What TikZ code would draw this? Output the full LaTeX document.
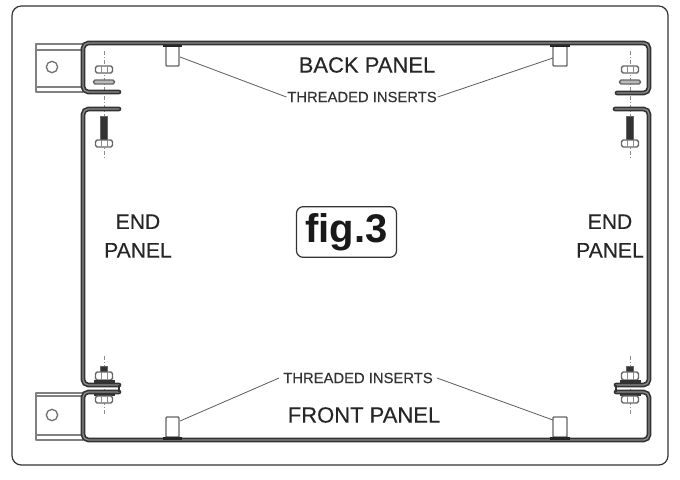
\documentclass[tikz,border=0pt]{standalone}
\usepackage{fontspec}
\setmainfont{Liberation Sans}
\newfontfamily\heavyfont[FakeBold=0.25]{Liberation Sans}
\definecolor{ink}{HTML}{333333}
\definecolor{mid}{HTML}{8C8C8C}
\tikzset{
 x=0.75pt,y=-0.75pt,
 sheetouter/.style={draw=ink,line width=3.5pt,rounded corners=4pt,line cap=round},
 sheetinner/.style={draw=mid,line width=1pt,rounded corners=4pt,line cap=round},
 tabline/.style={draw=black!50,line width=1pt,line join=round},
 lead/.style={draw=ink!80,line width=0.6pt},
 axisline/.style={draw=mid,line width=0.5pt,dash pattern=on 3pt off 1.5pt on 0.8pt off 1.5pt},
 hw/.style={draw=black!60,fill=white,line width=1.1pt,rounded corners=1.2pt},
 shank/.style={fill=ink,draw=black!60,line width=0.3pt},
 flangeb/.style={fill=black!85,draw=none},
 lbl/.style={font=\heavyfont\fontsize{16.5pt}{18pt}\selectfont,text=black!85,inner sep=0pt,align=center},
 lblend/.style={font=\heavyfont\fontsize{15.8pt}{18pt}\selectfont,text=black!85,inner sep=0pt,align=center},
 small/.style={font=\heavyfont\fontsize{11.1pt}{12pt}\selectfont,text=black!80,inner sep=0pt},
}
\newcommand{\sheet}[1]{\draw[sheetouter] #1; \draw[sheetinner] #1;}
\begin{document}
\begin{tikzpicture}
\useasboundingbox (0,0) rectangle (680,479);
\fill[white] (0,0) rectangle (680,479);
\draw[ink,line width=0.9pt,rounded corners=7pt] (12,6) rectangle (668,465);
% tabs
\draw[tabline] (83,44) -- (36,44) -- (36,92) -- (83,92);
\draw[tabline] (36,50) -- (83,50) (36,87) -- (83,87);
\node[circle,draw=black!55,line width=1pt,minimum size=8.5pt,inner sep=0pt] (holeA) at (52,67) {};
\draw[tabline] (83,393) -- (36,393) -- (36,440) -- (83,440);
\draw[tabline] (36,396) -- (83,396) (36,435) -- (83,435);
\node[circle,draw=black!55,line width=1pt,minimum size=8.5pt,inner sep=0pt] (holeB) at (52,415) {};
% axes
\draw[axisline] (104,51) -- (104,158);
\draw[axisline] (630,51) -- (630,158);
\draw[axisline] (104,356) -- (104,416);
\draw[axisline] (630,356) -- (630,416);
% panels
\sheet{(119,92) -- (83,92) -- (83,43) -- (649,43) -- (649,93) -- (617,93)}
\sheet{(119,109) -- (83,109) -- (83,385) -- (119,385)}
\sheet{(615,109) -- (649,109) -- (649,385) -- (616,385)}
\sheet{(119,392) -- (83,392) -- (83,440) -- (649,440) -- (649,392) -- (616,392)}
% inserts
\foreach \xa/\xb in {166/179,553/567}{
 \draw[hw,rounded corners=0.6pt] (\xa,46) rectangle (\xb,66);
 \fill[flangeb] (\xa-3,44.5) rectangle (\xb+3,47);
 \draw[hw,rounded corners=0.6pt] (\xa,417) rectangle (\xb,437);
 \fill[flangeb] (\xa-3,436.5) rectangle (\xb+3,439.5);
}
% hardware
\foreach \c in {104,630}{
 \draw[hw] (\c-8.5,66) rectangle (\c+8.5,73);
 \draw[mid,line width=0.7pt] (\c-3,66) -- (\c-3,73) (\c+3,66) -- (\c+3,73);
 \draw[hw,fill=mid!60] (\c-10.5,80) rectangle (\c+10.5,84);
 \draw[shank] (\c-3.5,116) rectangle (\c+3.5,140);
 \draw[hw] (\c-8.5,140) rectangle (\c+8.5,147);
 \draw[mid,line width=0.7pt] (\c-3,140) -- (\c-3,147) (\c+3,140) -- (\c+3,147);
 \draw[shank] (\c-3.5,366) rectangle (\c+3.5,373);
 \draw[hw] (\c-8.5,372) rectangle (\c+8.5,380);
 \draw[mid,line width=0.7pt] (\c-3,372) -- (\c-3,380) (\c+3,372) -- (\c+3,380);
 \fill[ink] (\c-10.5,380) rectangle (\c+10.5,383);
 \fill[ink] (\c-10.5,394) rectangle (\c+10.5,396);
 \draw[hw] (\c-8.5,396) rectangle (\c+8.5,403);
 \draw[mid,line width=0.7pt] (\c-3,396) -- (\c-3,403) (\c+3,396) -- (\c+3,403);
}
\draw[ink,line width=1pt] (119,385) -- (119,392) (616,385) -- (616,392);
% labels
\node[lbl] (back) at (367,65) {BACK PANEL};
\node[lbl] (front) at (364,415) {FRONT PANEL};
\node[lblend] (endL) at (138,236) {END\\[3.5pt]PANEL};
\node[lblend] (endR) at (610,236) {END\\[3.5pt]PANEL};
\node[small] (tiT) at (362,97) {THREADED INSERTS};
\node[small] (tiB) at (358,378) {THREADED INSERTS};
\node[draw=ink,line width=0.9pt,rounded corners=5pt,minimum width=75pt,minimum height=38pt,inner sep=0pt,
      font=\bfseries\fontsize{30pt}{32pt}\selectfont,text=black!90] (fig) at (346.5,232) {fig.3};
% leaders
\coordinate (insA) at (180,57);
\coordinate (insB) at (553,58);
\coordinate (insC) at (180,421);
\coordinate (insD) at (553,420);
\draw[lead] (insA) -- ([xshift=-0.5pt]tiT.west);
\draw[lead] (insB) -- ([xshift=0.5pt]tiT.east);
\draw[lead] (insC) -- ([xshift=-3pt]tiB.west);
\draw[lead] (insD) -- ([xshift=3pt]tiB.east);
\end{tikzpicture}
\end{document}
